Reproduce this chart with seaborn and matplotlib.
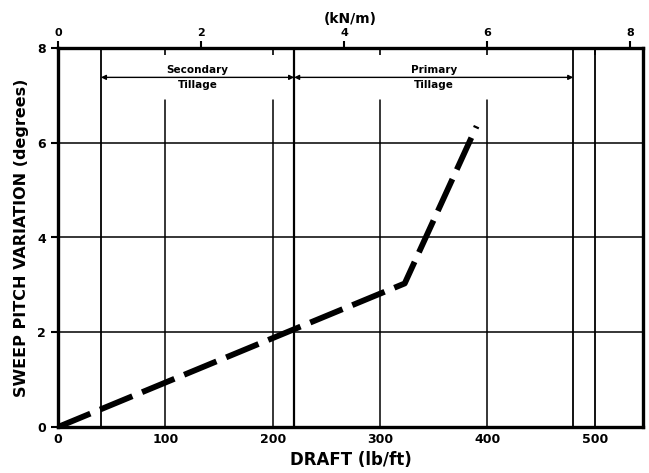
import matplotlib
matplotlib.use("Agg")
import matplotlib.pyplot as plt
import seaborn as sns
import pandas as pd
import numpy as np

# Data
draft_lbft = [0, 323, 390]
pitch_deg = [0.0, 3.03, 6.35]

x_ticks = [0, 100, 200, 300, 400, 500]
y_ticks = [0, 2, 4, 6, 8]
kn_ticks = [0, 2, 4, 6, 8]
grid_x_partial = [100, 200, 300, 400]
grid_x_full = [40, 220, 480, 500]
grid_y = [2, 4, 6]
region_labels = ["Secondary\nTillage", "Primary\nTillage"]
region_bounds = [(40, 220), (220, 480)]
KN_FACTOR = 66.6  # lb/ft per kN/m as drawn

sns.set_style("ticks", {"axes.edgecolor": "black", "text.color": "black",
                        "axes.labelcolor": "black", "xtick.color": "black",
                        "ytick.color": "black"})
plt.rcParams['font.family'] = ['DejaVu Sans']
plt.rcParams['font.weight'] = 'bold'

fig = plt.figure(figsize=(6.49, 4.73), dpi=100)
ax = fig.add_axes([58/649, 46/473, (643-58)/649, (427-48)/473])

df = pd.DataFrame({"draft": draft_lbft, "pitch": pitch_deg})
sns.lineplot(data=df, x="draft", y="pitch", ax=ax, color="black", lw=4.2,
             dashes=False)
ax.lines[-1].set_dashes([6.0, 1.8])
ax.lines[-1].set_dash_capstyle('butt')

ax.set_xlim(0, 545)
ax.set_ylim(0, 8)

for gy in grid_y:
    ax.axhline(gy, color="black", lw=1.1, zorder=1)
for gx in grid_x_partial:
    ax.plot([gx, gx], [0, 6.9], color="black", lw=1.1, zorder=1)
for gx in grid_x_full:
    ax.axvline(gx, color="black", lw=1.6 if gx == 220 else 1.3, zorder=1)

arrow_y = 7.38
for (a, b), lab in zip(region_bounds, region_labels):
    ax.annotate("", xy=(a, arrow_y), xytext=(b, arrow_y),
                arrowprops=dict(arrowstyle="<|-|>", color="black", lw=1.0,
                                mutation_scale=7, shrinkA=0, shrinkB=0))
    ax.text((a + b) / 2, arrow_y, lab, ha="center", va="center",
            fontsize=7.5, fontweight="bold", linespacing=1.55, color="black")

ax.set_xticks(x_ticks)
ax.set_yticks(y_ticks)
ax.tick_params(axis="x", direction="in", top=True, bottom=False, length=5,
               width=1.2, labelsize=9, pad=4, colors="black")
ax.tick_params(axis="y", direction="out", length=5, width=1.5, labelsize=9,
               colors="black")
for s in ax.spines.values():
    s.set_linewidth(2.4)
    s.set_visible(True)
    s.set_color("black")

ax.set_xlabel("DRAFT (lb/ft)", fontsize=12, fontweight="bold", labelpad=4,
              color="black")
ax.set_ylabel("SWEEP PITCH VARIATION (degrees)", fontsize=11.5,
              fontweight="bold", labelpad=6, color="black")

sec = ax.secondary_xaxis("top", functions=(lambda x: x / KN_FACTOR,
                                            lambda x: x * KN_FACTOR))
sec.set_xticks(kn_ticks)
sec.tick_params(direction="out", length=5, width=1.5, labelsize=8, pad=2,
                colors="black")
sec.set_xlabel("(kN/m)", fontsize=10, fontweight="bold", labelpad=4,
               color="black")

fig.savefig("out.png", dpi=100, facecolor="white")
